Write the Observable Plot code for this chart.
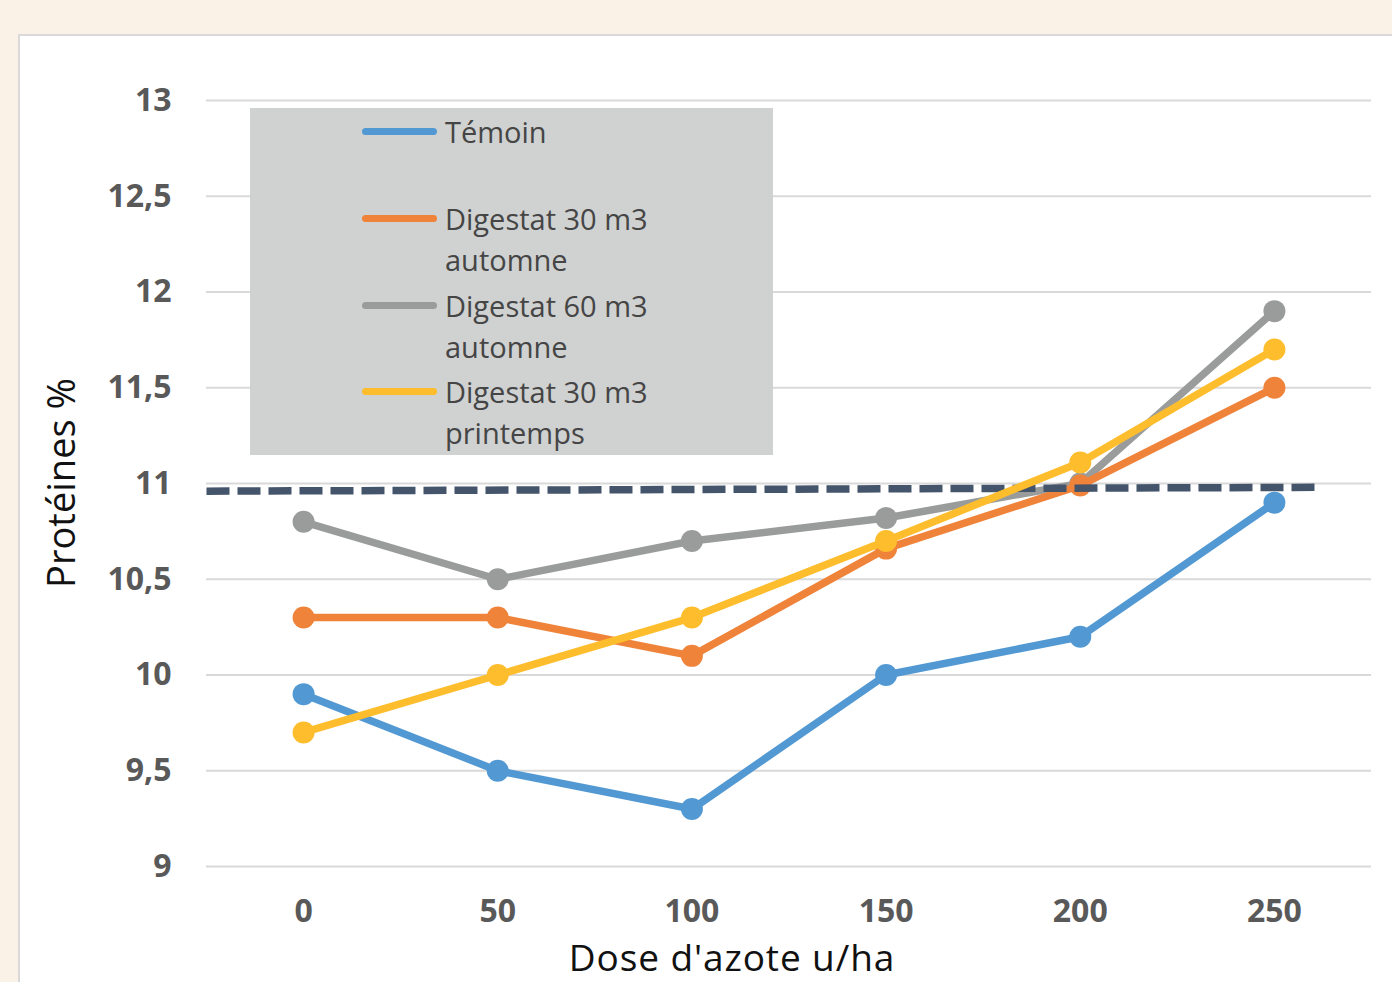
<!DOCTYPE html>
<html>
<head>
<meta charset="utf-8">
<script src="https://cdn.jsdelivr.net/npm/d3@7"></script>
<script src="https://cdn.jsdelivr.net/npm/@observablehq/plot@0.6"></script>
<style>
  html, body { margin: 0; padding: 0; }
  body { width: 1392px; height: 982px; background: #faf1e7; position: relative; overflow: hidden; font-family: "Open Sans", sans-serif; }
  #panel { position: absolute; left: 18px; top: 34px; width: 1400px; height: 1000px; background: #ffffff; border: 2px solid #d9d9d9; box-sizing: border-box; }
  #chart { position: absolute; left: 0; top: 0; }
  #legend { position: absolute; left: 250px; top: 108px; width: 523px; height: 347px; background: #d0d1d1; }
  .sw { position: absolute; left: 112px; width: 75px; height: 7px; border-radius: 3.5px; }
  .lab { position: absolute; left: 195px; font-size: 29px; line-height: 41px; color: #454545; white-space: nowrap; }
  #ytitle { position: absolute; left: 60px; top: 483px; transform: translate(-50%, -50%) rotate(-90deg); font-size: 38px; line-height: 40px; color: #111; white-space: nowrap; }
  #xtitle { position: absolute; left: 732px; top: 956.5px; transform: translate(-50%, -50%); font-size: 37px; letter-spacing: 0.9px; line-height: 38px; color: #111; white-space: nowrap; }
</style>
</head>
<body>
<div id="panel"></div>
<div id="chart"></div>
<div id="legend"></div>
<div id="ytitle">Protéines %</div>
<div id="xtitle">Dose d'azote u/ha</div>
<script>
const doses = [0, 50, 100, 150, 200, 250];
const seriesNames = ["Témoin", "Digestat 30 m3 automne", "Digestat 60 m3 automne", "Digestat 30 m3 printemps"];
const temoin = [9.9, 9.5, 9.3, 10.0, 10.2, 10.9];
const dig30automne = [10.3, 10.3, 10.1, 10.66, 10.99, 11.5];
const dig60automne = [10.8, 10.5, 10.7, 10.82, 11.0, 11.9];
const dig30printemps = [9.7, 10.0, 10.3, 10.7, 11.11, 11.7];
const lineColors = ["#5299d3", "#f0833a", "#9a9c9c", "#fdbd2c"];
const yTicks = [9, 9.5, 10, 10.5, 11, 11.5, 12, 12.5, 13];
const yTickLabels = ["9", "9,5", "10", "10,5", "11", "11,5", "12", "12,5", "13"];
const xTicks = [0, 50, 100, 150, 200, 250];
const thresholdX = [-25, 261];
const thresholdY = [10.96, 10.98];

const allValues = [temoin, dig30automne, dig60automne, dig30printemps];
const data = [];
allValues.forEach((vals, s) => vals.forEach((v, i) => data.push({series: seriesNames[s], dose: doses[i], value: v, idx: s})));
const threshold = thresholdX.map((x, i) => ({x, y: thresholdY[i]}));

// draw order: blue, gray, orange, yellow
const order = [0, 2, 1, 3];
const lineMarks = [];
order.forEach(s => {
  const d = data.filter(r => r.idx === s);
  lineMarks.push(Plot.line(d, {x: "dose", y: "value", stroke: lineColors[s], strokeWidth: 7.5}));
  lineMarks.push(Plot.dot(d, {x: "dose", y: "value", fill: lineColors[s], r: 11, stroke: "none"}));
});

const chart = Plot.plot({
  width: 1392,
  height: 982,
  marginLeft: 206,
  marginRight: 21,
  marginTop: 100,
  marginBottom: 116,
  style: {background: "transparent", fontFamily: "Open Sans, sans-serif", overflow: "visible"},
  x: {domain: [-25, 275], ticks: xTicks, label: null},
  y: {domain: [9, 13], ticks: yTicks, label: null},
  marks: [
    Plot.ruleY(yTicks, {stroke: "#d9d9d9", strokeWidth: 2, x1: -25, x2: 275}),
    Plot.axisY({ticks: yTicks, tickSize: 0, tickPadding: 35, tickFormat: (d) => yTickLabels[yTicks.indexOf(d)], fontSize: 32, fontWeight: "bold", fill: "#595959", label: null}),
    Plot.axisX({ticks: xTicks, tickSize: 0, tickPadding: 33, fontSize: 32, fontWeight: "bold", fill: "#595959", label: null}),
    ...lineMarks.slice(0, 6),
    Plot.line(threshold, {x: "x", y: "y", stroke: "#44546a", strokeWidth: 7.5, strokeDasharray: "23,8", strokeLinecap: "butt"}),
    ...lineMarks.slice(6)
  ]
});
document.getElementById("chart").appendChild(chart);

// legend
const legend = document.getElementById("legend");
const entries = [
  {lines: ["Témoin"], y: 23},
  {lines: ["Digestat 30 m3", "automne"], y: 110},
  {lines: ["Digestat 60 m3", "automne"], y: 197},
  {lines: ["Digestat 30 m3", "printemps"], y: 283}
];
entries.forEach((e, i) => {
  const sw = document.createElement("div");
  sw.className = "sw";
  sw.style.top = (e.y - 3.5) + "px";
  sw.style.background = lineColors[i];
  legend.appendChild(sw);
  const lab = document.createElement("div");
  lab.className = "lab";
  lab.style.top = (e.y - 20.5) + "px";
  lab.innerHTML = e.lines.join("<br>");
  legend.appendChild(lab);
});
</script>
</body>
</html>
